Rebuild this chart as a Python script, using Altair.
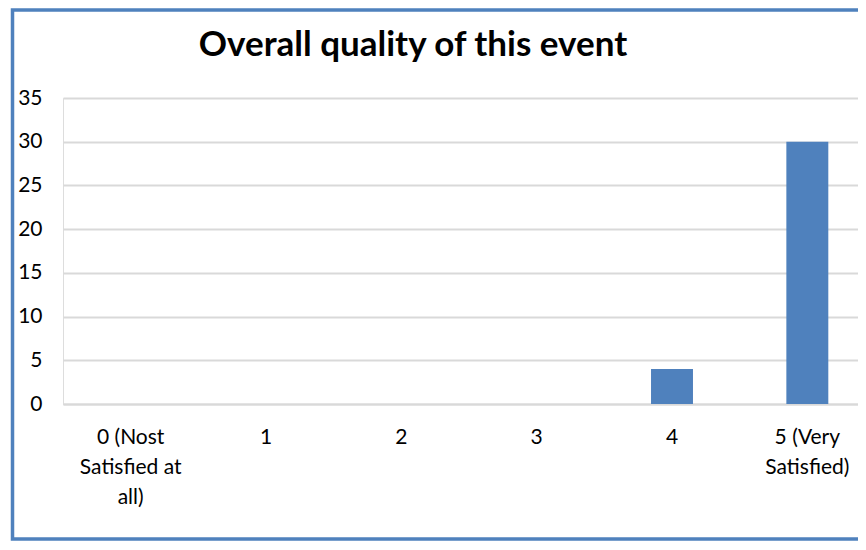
import altair as alt
import pandas as pd

categories = ["0 (Nost|Satisfied at|all)", "1", "2", "3", "4", "5 (Very|Satisfied)"]
counts = [0, 0, 0, 0, 4, 30]
title_text = "Overall quality of this event"
y_ticks = [0, 5, 10, 15, 20, 25, 30, 35]

df = pd.DataFrame({"rating": categories, "count": counts})

FONT = "Lato"
BLUE = "#4F81BD"
GRID = "#D9D9D9"

W, H = 795, 306

bars = alt.Chart(df).mark_bar(color=BLUE).encode(
    x=alt.X(
        "rating:N",
        sort=categories,
        scale=alt.Scale(range=[0, 812], paddingInner=0.69, paddingOuter=0.345),
        axis=alt.Axis(
            title=None,
            labelAngle=0,
            labelExpr="split(datum.label, '|')",
            labelFont=FONT,
            labelFontSize=21,
            labelColor="#000000",
            labelLineHeight=30,
            labelPadding=22,
            labelBaseline="top",
            ticks=False,
            domain=True,
            domainColor=GRID,
            domainWidth=2,
            grid=False,
        ),
    ),
    y=alt.Y(
        "count:Q",
        scale=alt.Scale(domain=[0, 35], nice=False),
        axis=alt.Axis(
            title=None,
            values=y_ticks,
            labelFont=FONT,
            labelFontSize=21,
            labelColor="#000000",
            labelPadding=21,
            ticks=False,
            domain=False,
            grid=True,
            gridColor=GRID,
            gridWidth=2,
        ),
    ),
)

deco = pd.DataFrame({"t": [title_text]})

title = alt.Chart(deco).mark_text(
    font=FONT, fontSize=35, fontWeight="bold", color="#000000",
    align="center", baseline="alphabetic",
).encode(text="t:N", x=alt.value(350), y=alt.value(-42))

border = alt.Chart(deco).mark_rect(
    fill=None, stroke=BLUE, strokeWidth=3.5,
).encode(x=alt.value(-50.5), x2=alt.value(W + 30), y=alt.value(-88), y2=alt.value(441))

chart = alt.layer(border, bars, title).properties(
    width=W,
    height=H,
    autosize=alt.AutoSizeParams(type="none"),
    padding={"left": 55, "top": 90, "right": 0, "bottom": 138},
).configure_view(stroke=None).configure(background="white")

chart.save("out.html", embed_options={"renderer": "svg", "actions": False})
